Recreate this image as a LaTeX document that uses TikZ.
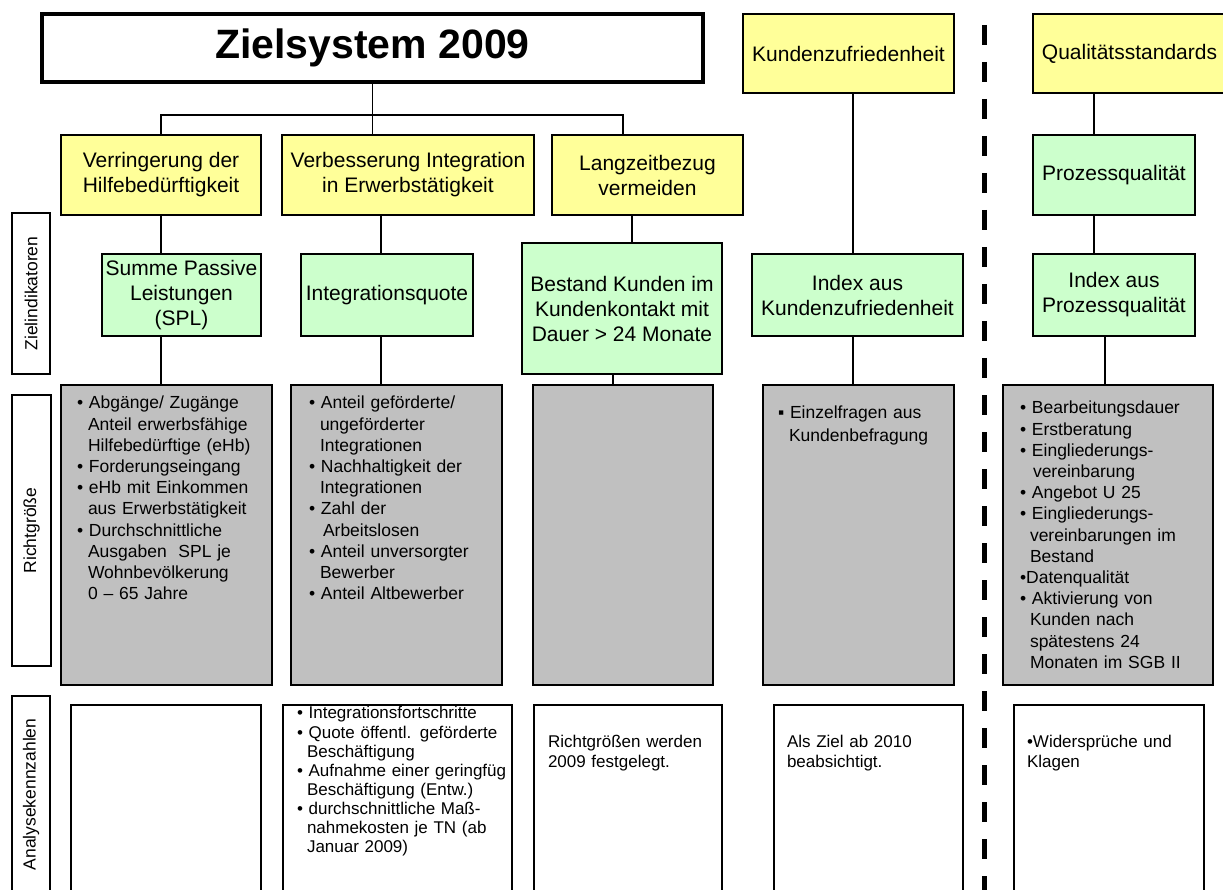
\documentclass[tikz,border=0pt]{standalone}
\usepackage{fontspec}
\usepackage{graphicx}
\setmainfont{Liberation Sans}
\definecolor{ylw}{HTML}{FFFF99}
\definecolor{grnc}{HTML}{CCFFCC}
\definecolor{gryc}{HTML}{C0C0C0}
\begin{document}
\begin{tikzpicture}[x=1pt,y=-1pt,
  bx/.style={draw=black, line width=1.3pt, inner sep=0pt, outer sep=0pt, align=center, font=\fontsize{21}{25}\selectfont},
  yel/.style={bx, fill=ylw},
  grn/.style={bx, fill=grnc},
  gry/.style={bx, fill=gryc},
  wht/.style={bx, fill=white},
  con/.style={line width=1.3pt, draw=black},
  txt/.style={anchor=north west, inner sep=0pt, outer sep=0pt, align=left, text width=230pt, font=\fontsize{17.5}{21.2}\selectfont},
  txtb/.style={txt, font=\fontsize{17}{19.1}\selectfont},
  txtc/.style={txt, font=\fontsize{17}{20}\selectfont},
  side/.style={inner sep=0pt, rotate=90, font=\fontsize{17.5}{20}\selectfont},
]
\fill[white] (0,0) rectangle (1223,890);
\useasboundingbox (0,0) rectangle (1223,890);

% top row
\node[bx, line width=3.5pt, minimum width=661pt, minimum height=68pt, font=\fontsize{41}{46}\selectfont\bfseries] (title) at (372.5,48) {Zielsystem 2009};
\node[yel, minimum width=211pt, minimum height=79pt] (kz) at (848.5,53.5) {Kundenzufriedenheit};
\node[yel, minimum width=193pt, minimum height=79pt] (qs) at (1129.5,53.5) {Qualitätsstandards};

% second row
\node[yel, minimum width=200pt, minimum height=80pt] (verr) at (161,175) {Verringerung der\\Hilfebedürftigkeit};
\node[yel, minimum width=252pt, minimum height=80pt] (verb) at (408,175) {Verbesserung Integration\\in Erwerbstätigkeit};
\node[yel, minimum width=191pt, minimum height=80pt] (lang) at (647.5,175) {Langzeitbezug\\vermeiden};
\node[grn, minimum width=162pt, minimum height=80pt] (pq) at (1114,175) {Prozessqualität};

% third row (Zielindikatoren)
\node[grn, minimum width=159pt, minimum height=82pt] (spl) at (181.5,295) {Summe Passive\\Leistungen\\(SPL)};
\node[grn, minimum width=172pt, minimum height=82pt] (iq) at (387,295) {Integrationsquote};
\node[grn, minimum width=200pt, minimum height=131pt] (bst) at (622,308.5) {Bestand Kunden im\\Kundenkontakt mit\\Dauer > 24 Monate};
\node[grn, minimum width=211pt, minimum height=82pt] (ikz) at (857.5,295) {Index aus\\Kundenzufriedenheit};
\node[grn, minimum width=162pt, minimum height=82pt] (ipq) at (1114,295) {Index aus\\Prozessqualität};

% grey row (Richtgröße)
\node[gry, minimum width=211pt, minimum height=300pt] (g1) at (166.5,535) {};
\node[gry, minimum width=211pt, minimum height=300pt] (g2) at (396.5,535) {};
\node[gry, minimum width=180pt, minimum height=300pt] (g3) at (623,535) {};
\node[gry, minimum width=191pt, minimum height=300pt] (g4) at (858.5,535) {};
\node[gry, minimum width=210pt, minimum height=300pt] (g5) at (1108,535) {};

% bottom row (Analysekennzahlen)
\node[wht, minimum width=190pt, minimum height=188pt] (a1) at (166,799) {};
\node[wht, minimum width=229pt, minimum height=188pt] (a2) at (397.5,799) {};
\node[wht, minimum width=188pt, minimum height=188pt] (a3) at (628,799) {};
\node[wht, minimum width=189pt, minimum height=188pt] (a4) at (868.5,799) {};
\node[wht, minimum width=190pt, minimum height=188pt] (a5) at (1109,799) {};

% side labels
\node[wht, minimum width=38pt, minimum height=161pt] (s1) at (31,293.5) {};
\node[side] (s1t) at (s1.center) {Zielindikatoren};
\node[wht, minimum width=39pt, minimum height=271pt] (s2) at (31.5,530.5) {};
\node[side] (s2t) at (s2.center) {Richtgröße};
\node[wht, minimum width=38pt, minimum height=197pt] (s3) at (31,794.5) {};
\node[side] (s3t) at (s3.center) {Analysekennzahlen};

% texts in grey boxes
\node[txt] (g1t) at (77,394) {\strut• Abgänge/ Zugänge\\
\hspace*{11pt}Anteil erwerbsfähige\\
\hspace*{11pt}Hilfebedürftige (eHb)\\
• Forderungseingang\\
• eHb mit Einkommen\\
\hspace*{11pt}aus Erwerbstätigkeit\\
• Durchschnittliche\\
\hspace*{11pt}Ausgaben\ \ SPL je\\
\hspace*{11pt}Wohnbevölkerung\\
\hspace*{11pt}0 – 65 Jahre};

\node[txt] (g2t) at (309,394) {\strut• Anteil geförderte/\\
\hspace*{11pt}ungeförderter\\
\hspace*{11pt}Integrationen\\
• Nachhaltigkeit der\\
\hspace*{11pt}Integrationen\\
• Zahl der\\
\hspace*{14pt}Arbeitslosen\\
• Anteil unversorgter\\
\hspace*{11pt}Bewerber\\
• Anteil Altbewerber};

\node[txt, font=\fontsize{17.5}{23}\selectfont] (g4t) at (778,402) {\strut▪ Einzelfragen aus\\
\hspace*{11pt}Kundenbefragung};

\node[txt] (g5t) at (1020,399) {\strut• Bearbeitungsdauer\\
• Erstberatung\\
• Eingliederungs-\\
\hspace*{13pt}vereinbarung\\
• Angebot U 25\\
• Eingliederungs-\\
\hspace*{10pt}vereinbarungen im\\
\hspace*{10pt}Bestand\\
•Datenqualität\\
• Aktivierung von\\
\hspace*{10pt}Kunden nach\\
\hspace*{10pt}spätestens 24\\
\hspace*{10pt}Monaten im SGB II};

% texts in bottom boxes
\node[txtb] (a2t) at (297,705.6) {\strut• Integrationsfortschritte\\
• Quote öffentl. geförderte\\
\hspace*{10pt}Beschäftigung\\
• Aufnahme einer geringfüg\\
\hspace*{10pt}Beschäftigung (Entw.)\\
• durchschnittliche Maß-\\
\hspace*{10pt}nahmekosten je TN (ab\\
\hspace*{10pt}Januar 2009)};
\node[txtc] (a3t) at (548,733) {\strut Richtgrößen werden\\2009 festgelegt.};
\node[txtc] (a4t) at (787,733) {\strut Als Ziel ab 2010\\beabsichtigt.};
\node[txtc] (a5t) at (1027,733) {\strut•Widersprüche und\\Klagen};

% helper x positions
\coordinate (hl) at (0,115);
\coordinate (xC) at (623,0);
\coordinate (xB2) at (381,0);
\coordinate (xC2) at (632,0);
\coordinate (xC3) at (613,0);
\coordinate (xK) at (853,0);
\coordinate (xQ) at (1094,0);
\coordinate (xQ2) at (1105,0);

% connectors
\draw[con] (title.south) -- (title.south |- hl);
\draw[con] (verr.north) -- (verr.north |- hl) -- (hl -| xC) -- (lang.north -| xC);
\draw[con] (title.south |- hl) -- (verb.north -| title.south);
\draw[con] (verr.south) -- (spl.north -| verr.south);
\draw[con] (spl.south -| verr.south) -- (g1.north -| verr.south);
\draw[con] (verb.south -| xB2) -- (iq.north -| xB2);
\draw[con] (iq.south -| xB2) -- (g2.north -| xB2);
\draw[con] (lang.south -| xC2) -- (bst.north -| xC2);
\draw[con] (bst.south -| xC3) -- (g3.north -| xC3);
\draw[con] (kz.south -| xK) -- (ikz.north -| xK);
\draw[con] (ikz.south -| xK) -- (g4.north -| xK);
\draw[con] (qs.south -| xQ) -- (pq.north -| xQ);
\draw[con] (pq.south -| xQ) -- (ipq.north -| xQ);
\draw[con] (ipq.south -| xQ2) -- (g5.north -| xQ2);

% dashed separator
\coordinate (sepT) at (984,25);
\coordinate (sepB) at (984,895);
\draw[line width=5pt, dash pattern=on 20pt off 17pt] (sepT) -- (sepB);
\end{tikzpicture}
\end{document}
